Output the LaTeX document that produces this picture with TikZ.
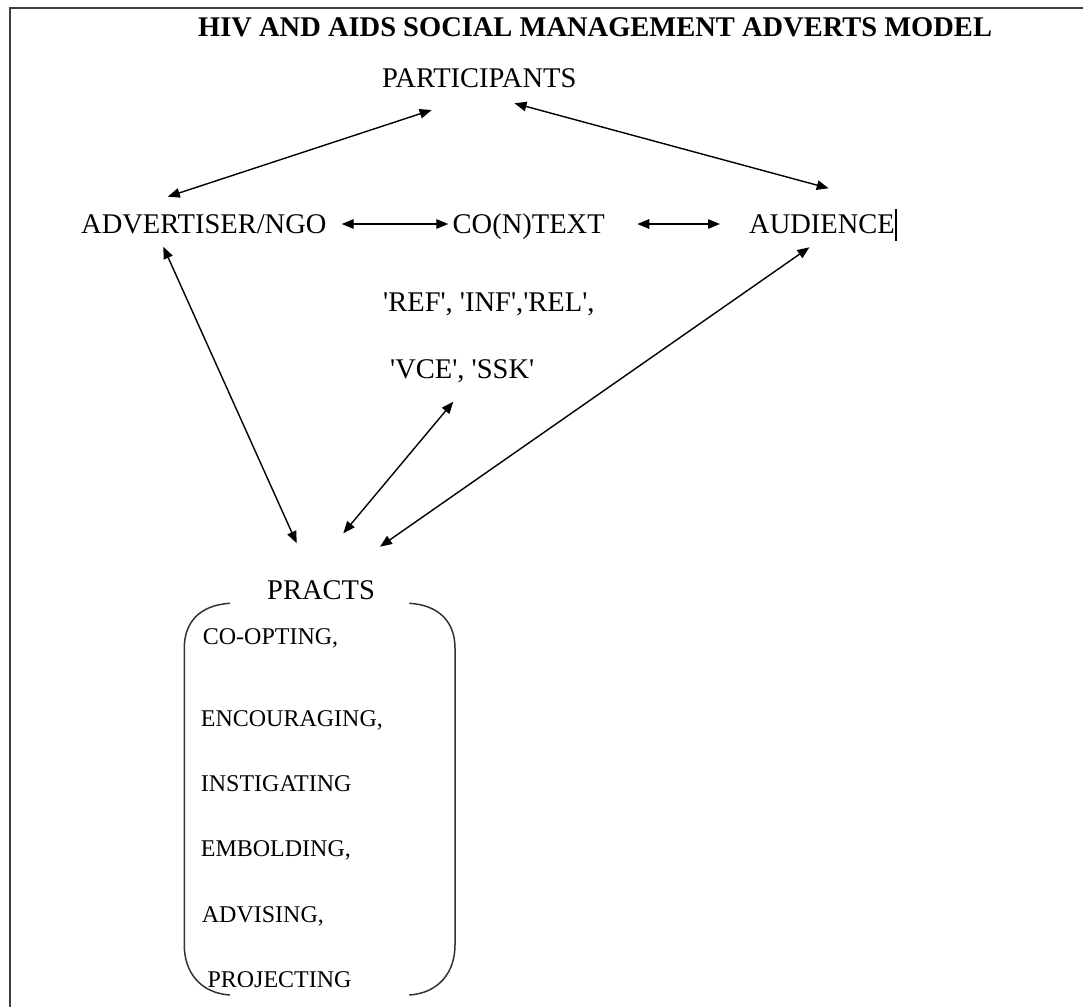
\documentclass[tikz,border=0pt]{standalone}
\usepackage{fontspec}
\setmainfont{Liberation Serif}[Ligatures=TeXOff]
\usetikzlibrary{arrows.meta}
\begin{document}
\begin{tikzpicture}[x=1pt,y=-1pt,
  lbl/.style={inner sep=0pt,anchor=base west,font=\fontsize{28.5}{34}\selectfont},
  ttl/.style={inner sep=0pt,anchor=base west,font=\fontsize{28.5}{34}\selectfont\bfseries},
  itm/.style={inner sep=0pt,anchor=base west,font=\fontsize{24}{28}\selectfont},
  arr/.style={line width=1.4pt,{Triangle[length=12pt,width=9.5pt]}-{Triangle[length=12pt,width=9.5pt]}},
  frm/.style={line width=2pt,draw=black!75},
  brk/.style={line width=1.5pt,draw=black!80}]
\useasboundingbox (0,0) rectangle (1083,1007);
% frame
\draw[frm] (1083,7.5) -- (9.5,7.5) -- (9.5,1007);
% texts
\node[ttl] (title) at (198,36.5) {HIV AND AIDS SOCIAL MANAGEMENT ADVERTS MODEL};
\node[lbl] (part) at (382,87) {PARTICIPANTS};
\node[lbl] (adv) at (81,233) {ADVERTISER/NGO};
\node[lbl] (ctx) at (452.5,233) {CO(N)TEXT};
\node[lbl] (aud) at (749,233) {AUDIENCE};
\node[lbl] (ref) at (383,311.5) {'REF', 'INF','REL',};
\node[lbl] (vce) at (390,378.5) {'VCE', 'SSK'};
\node[lbl] (pracs) at (267,599.3) {PRACTS};
\node[itm] (i1) at (202.7,644) {CO-OPTING,};
\node[itm] (i2) at (200.7,726) {ENCOURAGING,};
\node[itm] (i3) at (200.7,791.7) {INSTIGATING};
\node[itm] (i4) at (200.7,856.7) {EMBOLDING,};
\node[itm] (i5) at (201.7,922.3) {ADVISING,};
\node[itm] (i6) at (207.3,987.7) {PROJECTING};
% text cursor after AUDIENCE
\coordinate (curT) at (896,209);
\coordinate (curB) at (896,241);
\draw[line width=1.2pt] (curT) -- (curB);
% arrow end points
\coordinate (partL) at (431.6,110);
\coordinate (advT) at (167.8,196.7);
\coordinate (partR) at (514.5,103.3);
\coordinate (audT) at (828.7,188.3);
\coordinate (advE) at (341.7,224);
\coordinate (ctxW) at (448.3,224);
\coordinate (ctxE) at (637.3,224);
\coordinate (audW) at (720,224);
\coordinate (advB) at (163.3,246.7);
\coordinate (prA) at (296.7,543.3);
\coordinate (audB) at (809.4,247.3);
\coordinate (prC) at (380,546.7);
\coordinate (vceB) at (453.3,401.7);
\coordinate (prB) at (343.3,533.3);
% connectors
\draw[arr] (advT) -- (partL);
\draw[arr] (partR) -- (audT);
\draw[arr] (advE) -- (ctxW);
\draw[arr] (ctxE) -- (audW);
\draw[arr] (advB) -- (prA);
\draw[arr] (audB) -- (prC);
\draw[arr] (vceB) -- (prB);
% brackets
\draw[brk] (230,603.3) .. controls (200,605) and (184.3,622) .. (184.3,648)
  -- (184.3,945) .. controls (184.3,972) and (200,993) .. (230,995);
\draw[brk] (409.3,603.3) .. controls (439,605) and (455,622) .. (455,648)
  -- (455,945) .. controls (455,972) and (439,993) .. (409.3,995);
\end{tikzpicture}
\end{document}
